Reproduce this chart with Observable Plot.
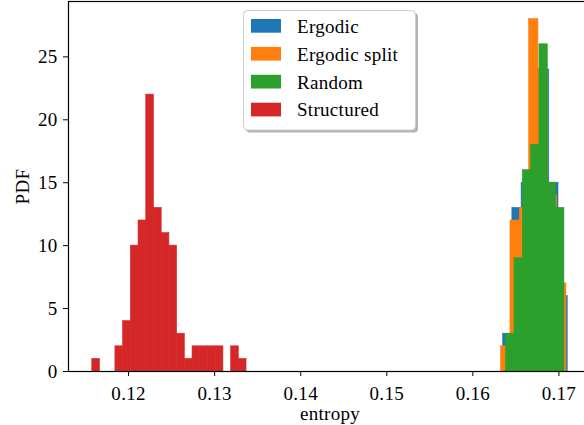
<!DOCTYPE html>
<html>
<head>
<meta charset="utf-8">
<script src="https://cdn.jsdelivr.net/npm/d3@7"></script>
<script src="https://cdn.jsdelivr.net/npm/@observablehq/plot@0.6"></script>
<style>
  html, body { margin: 0; padding: 0; background: white; }
  #wrap { position: relative; width: 584px; height: 425px; overflow: hidden; background: white; }
  #wrap svg { display: block; }
  #legend { position: absolute; left: 0; top: 0; pointer-events: none; }
  #wrap text { letter-spacing: 0.3px; }
</style>
</head>
<body>
<div id="wrap"></div>
<script>
// ---- data ----
const seriesNames = ["Ergodic", "Ergodic split", "Random", "Structured"];
const seriesColors = ["#1f77b4", "#ff7f0e", "#2ca02c", "#d62728"];

// histogram bin ranges [low, high] and per-bin heights (PDF)
const ergodicRange = [0.163519, 0.171022];
const ergodicPdf = [3, 13, 15, 24, 24, 15, 6];
const ergodicSplitRange = [0.163287, 0.170871];
const ergodicSplitPdf = [2, 12, 13, 28, 24, 14, 7];
const randomRange = [0.163868, 0.170639];
const randomPdf = [3, 9, 16, 18, 26, 15, 13];
const structuredRange = [0.115784, 0.133705];
const structuredPdf = [1, 0, 0, 2, 4, 10, 12, 22, 13, 11, 10, 3, 1, 2, 2, 2, 2, 0, 2, 1];

const xTicks = [0.12, 0.13, 0.14, 0.15, 0.16, 0.17];
const yTicks = [0, 5, 10, 15, 20, 25];
const xDomain = [0.113022, 0.173784];
const yDomain = [0, 29.4];

// ---- build bar table ----
const seriesList = [
  {name: seriesNames[0], range: ergodicRange, pdf: ergodicPdf},
  {name: seriesNames[1], range: ergodicSplitRange, pdf: ergodicSplitPdf},
  {name: seriesNames[2], range: randomRange, pdf: randomPdf},
  {name: seriesNames[3], range: structuredRange, pdf: structuredPdf}
];
const bars = seriesList.flatMap(s => {
  const n = s.pdf.length;
  const w = (s.range[1] - s.range[0]) / n;
  return s.pdf.map((v, i) => ({series: s.name, x1: s.range[0] + i * w, x2: s.range[0] + (i + 1) * w, pdf: v}));
}).filter(d => d.pdf > 0);

const font = "'Liberation Serif', 'Times New Roman', serif";
const fs = 19;

const chart = Plot.plot({
  width: 584,
  height: 425,
  marginLeft: 68,
  marginRight: -7,
  marginTop: 1,
  marginBottom: 54,
  style: {fontFamily: font, fontSize: fs + "px", color: "black", background: "white"},
  x: {domain: xDomain},
  y: {domain: yDomain},
  color: {domain: seriesNames, range: seriesColors},
  marks: [
    Plot.rectY(bars, {x1: "x1", x2: "x2", y: "pdf", fill: "series", stroke: "series", strokeWidth: 0.6, inset: 0}),
    Plot.axisX({ticks: xTicks, tickFormat: d3.format(".2f"), tickSize: 5, tickPadding: 10, label: null, stroke: "black", strokeWidth: 1, fill: "black"}),
    Plot.axisY({ticks: yTicks, tickFormat: d3.format("d"), tickSize: 5, tickPadding: 6, label: null, stroke: "black", strokeWidth: 1, fill: "black"}),
    Plot.frame({stroke: "black", strokeWidth: 1.2}),
    Plot.text(["entropy"], {frameAnchor: "bottom", dy: 42, lineAnchor: "middle", fill: "black", fontSize: fs}),
    Plot.text(["PDF"], {frameAnchor: "left", dx: -46, rotate: -90, lineAnchor: "middle", textAnchor: "middle", fill: "black", fontSize: fs})
  ]
});
document.getElementById("wrap").appendChild(chart);

// ---- legend (upper center, inside axes) ----
const lg = d3.select("#wrap").append("svg")
  .attr("id", "legend").attr("width", 584).attr("height", 425);
const box = {x: 243.5, y: 10.5, w: 172, h: 119.5};
lg.append("rect").attr("x", box.x + 2.5).attr("y", box.y + 2.5).attr("width", box.w).attr("height", box.h)
  .attr("rx", 4).attr("fill", "#808080").attr("opacity", 0.6);
lg.append("rect").attr("x", box.x).attr("y", box.y).attr("width", box.w).attr("height", box.h)
  .attr("rx", 4).attr("fill", "white").attr("stroke", "#cccccc").attr("stroke-width", 1);
const rowH = 27.9;
seriesNames.forEach((name, k) => {
  lg.append("rect").attr("x", 251).attr("y", 19 + k * rowH).attr("width", 30).attr("height", 13.7)
    .attr("fill", seriesColors[k]);
  lg.append("text").attr("x", 297).attr("y", 32.7 + k * rowH)
    .attr("font-family", font).attr("font-size", fs).attr("fill", "black").text(name);
});
</script>
</body>
</html>
